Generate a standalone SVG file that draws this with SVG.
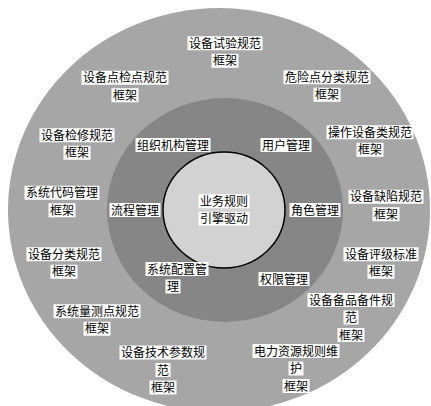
<svg xmlns="http://www.w3.org/2000/svg" width="431" height="406" viewBox="0 0 431 406">
<style>
.bg{fill:#ffffff}
.lb{fill:#ffffff}
.t{font-family:"Noto Sans CJK SC","Noto Sans",sans-serif;font-size:12px;fill:#000000;text-anchor:middle}
</style>
<rect class="bg" x="0" y="0" width="431" height="406"/>
<g id="outer-ring"><ellipse cx="219" cy="210" rx="211" ry="202" fill="#a6a6a6"/></g>
<g id="middle-ring"><ellipse cx="225" cy="210" rx="118" ry="112" fill="#868686"/></g>
<g id="core"><ellipse cx="224" cy="210" rx="61" ry="58" fill="#d2d2d2" stroke="#000000" stroke-width="1.5"/></g>
<g id="connectors"></g>

<g id="core-label">
<rect class="lb" x="198.5" y="194.25" width="51" height="14"/>
<rect class="lb" x="198.5" y="211.75" width="51" height="14"/>
<text class="t" x="224" y="205.75">业务规则<tspan x="224" dy="17.5">引擎驱动</tspan></text>
</g>

<g id="n-org"><rect class="lb" x="135.5" y="138" width="75" height="14"/><text class="t" x="173" y="149.5">组织机构管理</text></g>
<g id="n-user"><rect class="lb" x="260.5" y="138" width="51" height="14"/><text class="t" x="286" y="149.5">用户管理</text></g>
<g id="n-flow"><rect class="lb" x="109.5" y="203" width="51" height="14"/><text class="t" x="135" y="214.5">流程管理</text></g>
<g id="n-role"><rect class="lb" x="289.5" y="203" width="51" height="14"/><text class="t" x="315" y="214.5">角色管理</text></g>
<g id="n-sysconf">
<rect class="lb" x="145.5" y="262" width="63" height="14"/>
<rect class="lb" x="165.5" y="279.5" width="15" height="14"/>
<text class="t" x="177" y="273.5">系统配置管<tspan x="173" dy="17.5">理</tspan></text>
</g>
<g id="n-perm"><rect class="lb" x="258.5" y="272" width="51" height="14"/><text class="t" x="284" y="283.5">权限管理</text></g>

<g id="n-test">
<rect class="lb" x="187.5" y="36.25" width="75" height="14"/>
<rect class="lb" x="211.5" y="53.75" width="27" height="14"/>
<text class="t" x="225" y="47.75">设备试验规范<tspan x="225" dy="17.5">框架</tspan></text>
</g>
<g id="n-spot">
<rect class="lb" x="81.5" y="70.75" width="87" height="14"/>
<rect class="lb" x="111.5" y="88.25" width="27" height="14"/>
<text class="t" x="125" y="82.25">设备点检点规范<tspan x="125" dy="17.5">框架</tspan></text>
</g>
<g id="n-danger">
<rect class="lb" x="283.5" y="70.25" width="87" height="14"/>
<rect class="lb" x="313.5" y="87.75" width="27" height="14"/>
<text class="t" x="327" y="81.75">危险点分类规范<tspan x="327" dy="17.5">框架</tspan></text>
</g>
<g id="n-repair">
<rect class="lb" x="39.5" y="128.25" width="75" height="14"/>
<rect class="lb" x="63.5" y="145.75" width="27" height="14"/>
<text class="t" x="77" y="139.75">设备检修规范<tspan x="77" dy="17.5">框架</tspan></text>
</g>
<g id="n-operate">
<rect class="lb" x="326.5" y="125.25" width="87" height="14"/>
<rect class="lb" x="356.5" y="142.75" width="27" height="14"/>
<text class="t" x="370" y="136.75">操作设备类规范<tspan x="370" dy="17.5">框架</tspan></text>
</g>
<g id="n-code">
<rect class="lb" x="24.5" y="185.75" width="75" height="14"/>
<rect class="lb" x="48.5" y="203.25" width="27" height="14"/>
<text class="t" x="62" y="197.25">系统代码管理<tspan x="62" dy="17.5">框架</tspan></text>
</g>
<g id="n-defect">
<rect class="lb" x="348.5" y="189.75" width="75" height="14"/>
<rect class="lb" x="372.5" y="207.25" width="27" height="14"/>
<text class="t" x="386" y="201.25">设备缺陷规范<tspan x="386" dy="17.5">框架</tspan></text>
</g>
<g id="n-class">
<rect class="lb" x="26.5" y="247.25" width="75" height="14"/>
<rect class="lb" x="50.5" y="264.75" width="27" height="14"/>
<text class="t" x="64" y="258.75">设备分类规范<tspan x="64" dy="17.5">框架</tspan></text>
</g>
<g id="n-grade">
<rect class="lb" x="343.5" y="247.25" width="75" height="14"/>
<rect class="lb" x="367.5" y="264.75" width="27" height="14"/>
<text class="t" x="381" y="258.75">设备评级标准<tspan x="381" dy="17.5">框架</tspan></text>
</g>
<g id="n-measure">
<rect class="lb" x="53.5" y="304.25" width="87" height="14"/>
<rect class="lb" x="83.5" y="321.75" width="27" height="14"/>
<text class="t" x="97" y="315.75">系统量测点规范<tspan x="97" dy="17.5">框架</tspan></text>
</g>
<g id="n-spare">
<rect class="lb" x="307.5" y="293" width="87" height="14"/>
<rect class="lb" x="343.5" y="310.5" width="15" height="14"/>
<rect class="lb" x="337.5" y="328" width="27" height="14"/>
<text class="t" x="351" y="304.5">设备备品备件规<tspan x="351" dy="17.5">范</tspan><tspan x="351" dy="17.5">框架</tspan></text>
</g>
<g id="n-param">
<rect class="lb" x="119.5" y="345.5" width="87" height="14"/>
<rect class="lb" x="155.5" y="363" width="15" height="14"/>
<rect class="lb" x="149.5" y="380.5" width="27" height="14"/>
<text class="t" x="163" y="357">设备技术参数规<tspan x="163" dy="17.5">范</tspan><tspan x="163" dy="17.5">框架</tspan></text>
</g>
<g id="n-power">
<rect class="lb" x="252.5" y="344" width="87" height="14"/>
<rect class="lb" x="288.5" y="361.5" width="15" height="14"/>
<rect class="lb" x="282.5" y="379" width="27" height="14"/>
<text class="t" x="296" y="355.5">电力资源规则维<tspan x="296" dy="17.5">护</tspan><tspan x="296" dy="17.5">框架</tspan></text>
</g>
</svg>
